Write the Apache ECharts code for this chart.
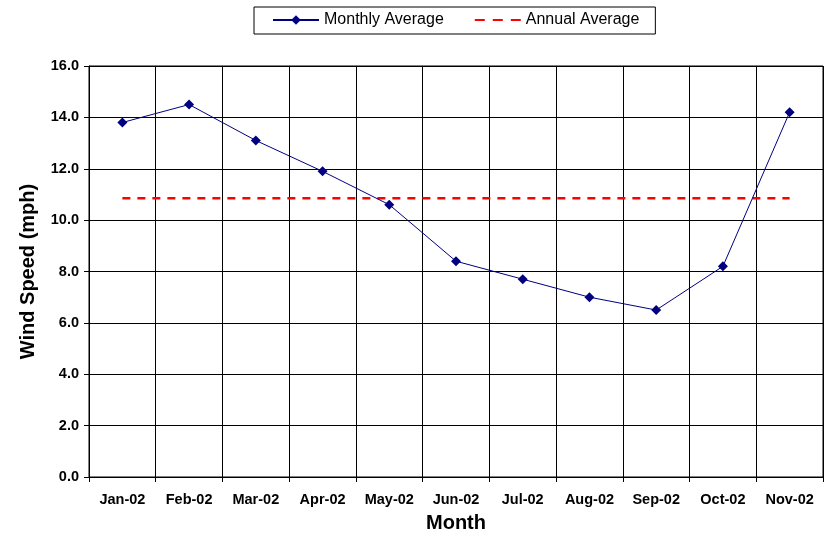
<!DOCTYPE html>
<html>
<head>
<meta charset="utf-8">
<script src="https://cdn.jsdelivr.net/npm/echarts@6/dist/echarts.min.js"></script>
<style>
  body { margin: 0; background: #fff; }
  #chart { width: 827px; height: 540px; }
</style>
</head>
<body>
<div id="chart"></div>
<script>
// months on the x axis
var months = ['Jan-02', 'Feb-02', 'Mar-02', 'Apr-02', 'May-02', 'Jun-02',
  'Jul-02', 'Aug-02', 'Sep-02', 'Oct-02', 'Nov-02'];
// monthly average wind speed (mph)
var monthlyAvg = [13.8, 14.5, 13.1, 11.9, 10.6, 8.4, 7.7, 7.0, 6.5, 8.2, 14.2];
// annual average, same for every month
var annualValue = 10.85;
var annualAvg = months.map(function () { return annualValue; });

var chart = echarts.init(document.getElementById('chart'));
var font = 'Liberation Sans, Arial, sans-serif';

var option = {
  backgroundColor: '#fff',
  animation: false,
  textStyle: { fontFamily: font },
  legend: {
    top: 7,
    left: 254,
    itemGap: 30,
    itemWidth: 46,
    itemHeight: 12,
    padding: [5, 16, 6, 18],
    borderColor: '#000',
    borderWidth: 1,
    textStyle: { fontSize: 16, color: '#000', fontFamily: font },
    data: [
      { name: 'Monthly Average' },
      {
        name: 'Annual Average',
        itemStyle: { opacity: 0 },
        lineStyle: { type: [10, 8] },
      },
    ],
  },
  grid: {
    left: 89,
    right: 4,
    top: 66,
    bottom: 63,
    outerBoundsMode: 'none',
    containLabel: false,
    show: true,
    borderColor: '#000',
    borderWidth: 1,
  },
  xAxis: {
    type: 'category',
    data: months,
    boundaryGap: true,
    name: 'Month',
    nameLocation: 'middle',
    nameGap: 36,
    nameTextStyle: { fontSize: 20, fontWeight: 'bold', color: '#000' },
    axisLine: { lineStyle: { color: '#000', width: 1 } },
    axisTick: { show: true, length: 5, lineStyle: { color: '#000' } },
    axisLabel: { fontSize: 14.5, fontWeight: 'bold', color: '#000', margin: 15 },
    splitLine: { show: true, lineStyle: { color: '#000', width: 1 } },
  },
  yAxis: {
    type: 'value',
    min: 0,
    max: 16,
    interval: 2,
    name: 'Wind Speed (mph)',
    nameLocation: 'middle',
    nameGap: 51,
    nameTextStyle: { fontSize: 20, fontWeight: 'bold', color: '#000' },
    axisLine: { show: true, lineStyle: { color: '#000', width: 1 } },
    axisTick: { show: true, length: 5, lineStyle: { color: '#000' } },
    axisLabel: {
      fontSize: 14.5, fontWeight: 'bold', color: '#000', margin: 10,
      formatter: function (v) { return v.toFixed(1); },
    },
    splitLine: { show: true, lineStyle: { color: '#000', width: 1 } },
  },
  series: [
    {
      name: 'Monthly Average',
      type: 'line',
      data: monthlyAvg,
      symbol: 'diamond',
      symbolSize: 10,
      itemStyle: { color: '#000080' },
      lineStyle: { color: '#000080', width: 1 },
      z: 3,
    },
    {
      name: 'Annual Average',
      type: 'line',
      data: annualAvg,
      symbol: 'none',
      itemStyle: { color: '#ff0000' },
      lineStyle: { color: '#ff0000', width: 2.5, type: [8, 7] },
      z: 2,
    },
  ],
};

chart.setOption(option);
</script>
</body>
</html>
